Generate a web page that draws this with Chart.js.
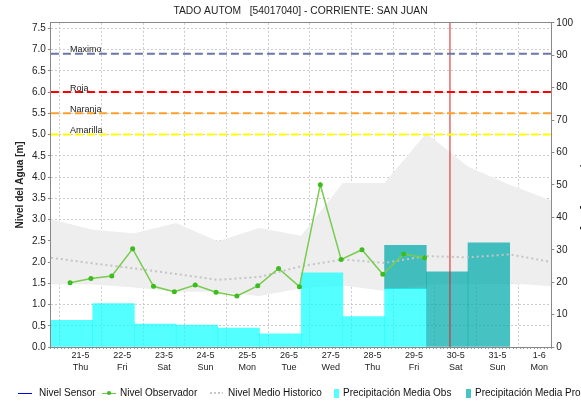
<!DOCTYPE html>
<html>
<head>
  <meta charset="UTF-8" />
  <title>TADO AUTOM - Nivel del Agua</title>
  <script src="https://cdn.jsdelivr.net/npm/chart.js"></script>
  <style>
    html, body { margin: 0; padding: 0; overflow: hidden; background: #fff; }
    #wrap { position: relative; width: 581px; height: 401px; overflow: hidden; }
    #chart { position: absolute; left: 0; top: 0; }
    #legend {
      position: absolute; left: 0; top: 386px; width: 581px; height: 14px;
      font: 10px "Liberation Sans", Arial, sans-serif; color: #111;
      white-space: nowrap; overflow: hidden;
    }
    .item { position: absolute; top: 0; height: 14px; line-height: 14px; }
    .sym { display: inline-block; vertical-align: middle; position: relative; }
    .line { width: 14px; height: 0; border-top: 1px solid; margin-right: 7px; }
    .dot { position: absolute; left: 5px; top: -3px; width: 4px; height: 4px; border-radius: 2px; }
    .dash { width: 13px; height: 2px; margin-right: 5px;
      background: repeating-linear-gradient(to right, #c8c8c8 0 2px, transparent 2px 4px); }
    .box { width: 5px; height: 9px; margin-right: 4px; }
  </style>
</head>
<body>
<div id="wrap">
  <canvas id="chart" width="595" height="401"></canvas>
  <div id="legend">
    <span class="item" style="left:18px"><span class="sym line" style="border-color:#0000ee"></span>Nivel Sensor</span>
    <span class="item" style="left:102px"><span class="sym line" style="border-color:#6cc840;margin-right:4px"><span class="dot" style="background:#3cbc1e"></span></span>Nivel Observador</span>
    <span class="item" style="left:210px"><span class="sym dash"></span>Nivel Medio Historico</span>
    <span class="item" style="left:334px"><span class="sym box" style="background:#55ffff"></span>Precipitación Media Obs</span>
    <span class="item" style="left:466px"><span class="sym box" style="background:#48c4c4"></span>Precipitación Media Pronosticada</span>
  </div>
</div>

<script>
// x values are days counted from 21-5 00:00
const dayLabels = ['21-5', '22-5', '23-5', '24-5', '25-5', '26-5', '27-5', '28-5', '29-5', '30-5', '31-5', '1-6'];
const weekDays = ['Thu', 'Fri', 'Sat', 'Sun', 'Mon', 'Tue', 'Wed', 'Thu', 'Fri', 'Sat', 'Sun', 'Mon'];
const levelTicks = [0, 0.5, 1, 1.5, 2, 2.5, 3, 3.5, 4, 4.5, 5, 5.5, 6, 6.5, 7, 7.5];
const precipTicks = [0, 10, 20, 30, 40, 50, 60, 70, 80, 90, 100];

// observed level (m), twice a day at 06:00 and 18:00
const obsTimes = [-0.25, 0.25, 0.75, 1.25, 1.75, 2.25, 2.75, 3.25, 3.75, 4.25, 4.75, 5.25, 5.75, 6.25, 6.75, 7.25, 7.75, 8.25];
const obsLevel = [1.51, 1.61, 1.67, 2.31, 1.43, 1.30, 1.46, 1.29, 1.20, 1.44, 1.85, 1.42, 3.82, 2.06, 2.29, 1.71, 2.19, 2.10];
const sensorLevel = [];

// historical band (m), daily at 07:00
const histTimes = [-0.71, 0.29, 1.29, 2.29, 3.29, 4.29, 5.29, 6.29, 7.29, 8.29, 9.29, 10.29, 11.29];
const histMax = [3.01, 2.76, 2.68, 2.92, 2.49, 2.80, 2.62, 3.86, 3.86, 5.03, 4.25, 3.82, 3.45];
const histMin = [1.48, 1.47, 1.40, 1.30, 1.30, 1.20, 1.38, 1.45, 1.32, 1.47, 1.49, 1.50, 1.43];
const histMedian = [2.10, 1.97, 1.85, 1.72, 1.58, 1.65, 1.90, 2.06, 1.98, 2.14, 2.11, 2.18, 2.00];

// precipitation (mm), one bar per day index (07:00 to 07:00)
const precipObsDays = [0, 1, 2, 3, 4, 5, 6, 7, 8];
const precipObs = [8.2, 13.4, 7.1, 6.8, 5.8, 4.1, 22.9, 9.4, 18.0];
const precipFcstDays = [8, 9, 10];
const precipFcst = [31.4, 23.2, 32.1];

// alert levels (m)
const thresholdNames = ['Maximo', 'Roja', 'Naranja', 'Amarilla'];
const thresholdValues = [6.9, 6.0, 5.5, 5.0];
const thresholdColors = ['#6a77a8', '#ff0000', '#ff9f2a', '#ffff00'];

const nowTime = 8.86;
const xMin = -0.71, xMax = 11.29;
const levelMax = 7.63;

const FONT = '"Liberation Sans", Arial, sans-serif';
Chart.defaults.font.family = FONT;
Chart.defaults.color = '#222';

const pts = (xs, ys) => ys.map((y, i) => ({ x: xs[i], y: y }));
const barPts = (days, ys) => ys.map((y, i) => ({ x: days[i] - 5 / 24, y: y }));
// forecast bar sits behind the observed one: show only the part above it
const fcstPts = precipFcst.map((v, i) => {
  const k = precipObsDays.indexOf(precipFcstDays[i]);
  const base = k >= 0 ? precipObs[k] : 0;
  return { x: precipFcstDays[i] - 5 / 24, y: [base, v] };
});
const GRID = '#cccccc';
const AXIS = '#888888';

const datasets = [
  {
    label: 'Nivel Observador', type: 'line', data: pts(obsTimes, obsLevel),
    borderColor: '#78cc50', borderWidth: 1.5, tension: 0,
    pointRadius: 2.5, pointBorderWidth: 0, pointBackgroundColor: '#3cbc1e',
    yAxisID: 'y', order: 0
  },
  {
    label: 'Nivel Sensor', type: 'line', data: pts([], sensorLevel),
    borderColor: '#0000ee', borderWidth: 1, pointRadius: 0, yAxisID: 'y', order: 0
  }
];

thresholdNames.forEach((name, i) => {
  datasets.push({
    label: name, type: 'line',
    data: [{ x: xMin, y: thresholdValues[i] }, { x: xMax, y: thresholdValues[i] }],
    borderColor: thresholdColors[i], borderWidth: 2, borderDash: [8, 4],
    pointRadius: 0, yAxisID: 'y', order: 1
  });
});

datasets.push(
  {
    label: 'Ahora', type: 'line',
    data: [{ x: nowTime, y: 0 }, { x: nowTime, y: levelMax }],
    borderColor: '#dd1c1c', borderWidth: 1, pointRadius: 0, yAxisID: 'y', order: 1
  },
  {
    label: 'Nivel Medio Historico', type: 'line', data: pts(histTimes, histMedian),
    borderColor: '#c4c4c4', borderWidth: 2, borderDash: [2, 3], pointRadius: 0,
    yAxisID: 'y', order: 2
  },
  {
    label: 'Precipitación Media Obs', type: 'bar', data: barPts(precipObsDays, precipObs),
    backgroundColor: 'rgba(0,255,255,0.67)', borderWidth: 0, grouped: false,
    barPercentage: 1, categoryPercentage: 1, yAxisID: 'yP', order: 3
  },
  {
    label: 'Precipitación Media Pronosticada', type: 'bar', data: fcstPts,
    backgroundColor: 'rgba(0,170,170,0.72)', borderWidth: 0, grouped: false,
    barPercentage: 1, categoryPercentage: 1, yAxisID: 'yP', order: 4
  },
  {
    label: 'Min Historico', type: 'line', data: pts(histTimes, histMin),
    borderWidth: 0, pointRadius: 0, fill: false, yAxisID: 'y', order: 5
  },
  {
    label: 'Max Historico', type: 'line', data: pts(histTimes, histMax),
    borderWidth: 0, pointRadius: 0, fill: '-1', backgroundColor: '#eeeeee',
    yAxisID: 'y', order: 6
  }
);

const thresholdLabels = {
  id: 'thresholdLabels',
  afterDatasetsDraw(chart) {
    const { ctx, chartArea, scales } = chart;
    ctx.save();
    ctx.font = '9px ' + FONT;
    ctx.fillStyle = '#222';
    ctx.textBaseline = 'alphabetic';
    thresholdNames.forEach((name, i) => {
      const y = scales.y.getPixelForValue(thresholdValues[i]);
      ctx.fillText(name, chartArea.left + 19, y - 1.5);
    });
    ctx.restore();
  }
};

new Chart(document.getElementById('chart'), {
  type: 'line',
  data: { datasets },
  plugins: [thresholdLabels],
  options: {
    responsive: false,
    animation: false,
    events: [],
    layout: { padding: { left: 6, right: 0, top: 0, bottom: 26.6 } },
    plugins: {
      legend: { display: false },
      tooltip: { enabled: false },
      title: {
        display: true,
        text: 'TADO AUTOM   [54017040] - CORRIENTE: SAN JUAN',
        font: { size: 10.3, weight: 'normal' },
        color: '#222',
        padding: { top: 5, bottom: 5.5 }
      }
    },
    scales: {
      x: {
        type: 'linear', position: 'bottom', weight: 1, min: xMin, max: xMax, offset: false,
        afterBuildTicks: s => { s.ticks = dayLabels.map((_, i) => ({ value: i })); },
        ticks: {
          autoSkip: false, maxRotation: 0, padding: 1,
          font: { size: 9, lineHeight: 1.3 }, color: '#222',
          callback: v => [dayLabels[v], weekDays[v]]
        },
        grid: { color: GRID, drawTicks: false },
        border: { display: false, dash: [2, 2] }
      },
      xMinor: {
        type: 'linear', position: 'bottom', weight: 0, min: xMin, max: xMax,
        afterBuildTicks: s => {
          const t = [];
          for (let h = -17; h <= 12 * 24 - 17; h += 2) t.push({ value: h / 24 });
          s.ticks = t;
        },
        ticks: { display: false },
        grid: { drawOnChartArea: false, tickLength: 2, tickColor: '#999' },
        border: { color: AXIS }
      },
      xTop: {
        type: 'linear', position: 'top', min: xMin, max: xMax,
        ticks: { display: false },
        grid: { display: false, drawTicks: false },
        border: { color: AXIS }
      },
      y: {
        type: 'linear', position: 'left', min: 0, max: levelMax,
        afterBuildTicks: s => { s.ticks = levelTicks.map(v => ({ value: v })); },
        ticks: { font: { size: 10 }, color: '#222', padding: 2, callback: v => v.toFixed(1) },
        grid: { color: GRID, tickLength: 3, tickColor: AXIS },
        border: { color: AXIS, dash: [2, 2] },
        title: {
          display: true, text: 'Nivel del Agua [m]', color: '#222',
          font: { size: 10, weight: 'bold' }, padding: { top: 8, bottom: 4 }
        }
      },
      yP: {
        type: 'linear', position: 'right', min: 0, max: 100,
        afterBuildTicks: s => { s.ticks = precipTicks.map(v => ({ value: v })); },
        ticks: { font: { size: 10 }, color: '#222', padding: 2 },
        grid: { drawOnChartArea: false, tickLength: 3, tickColor: AXIS },
        border: { color: AXIS },
        title: {
          display: true, text: 'Precipitación [mm]', color: '#222',
          font: { size: 10, weight: 'bold' }, padding: { top: 4, bottom: 4 }
        }
      }
    }
  }
});
</script>
</body>
</html>
